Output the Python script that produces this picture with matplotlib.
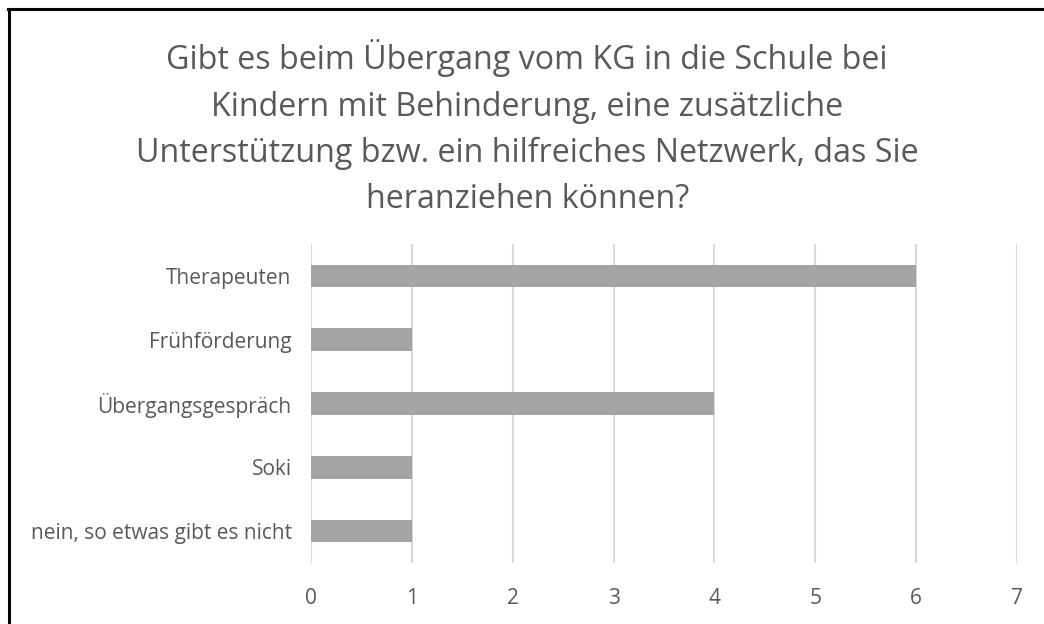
import matplotlib.pyplot as plt
from matplotlib.lines import Line2D

# Data
categories = ['Therapeuten', 'Frühförderung', 'Übergangsgespräch', 'Soki', 'nein, so etwas gibt es nicht']
values = [6, 1, 4, 1, 1]
xticks = [0, 1, 2, 3, 4, 5, 6, 7]
title = ('Gibt es beim Übergang vom KG in die Schule bei\n'
         'Kindern mit Behinderung, eine zusätzliche\n'
         'Unterstützung bzw. ein hilfreiches Netzwerk, das Sie\n'
         'heranziehen können?')

plt.rcParams['font.family'] = ['Open Sans', 'DejaVu Sans']
text_col = '#595959'

fig = plt.figure(figsize=(10.44, 6.24), dpi=100)
ax = fig.add_axes([0.298, 0.098, 0.676, 0.511])

ypos = list(range(len(categories)))
ax.barh(ypos, values, height=0.355, color='#a5a5a5', zorder=3)
ax.set_yticks(ypos)
ax.set_yticklabels(categories)
ax.set_ylim(len(categories) - 0.5, -0.5)
ax.set_xlim(0, 7)
ax.set_xticks(xticks)

ax.grid(axis='x', color='#d9d9d9', linewidth=1.5, zorder=0)
for s in ax.spines.values():
    s.set_visible(False)
ax.tick_params(length=0, labelsize=15, colors=text_col, pad=14)
ax.tick_params(axis='x', pad=18)

fig.text(0.505, 0.937, title, ha='center', va='top', fontsize=23.2,
         color=text_col, linespacing=1.53)

# outer border (top and left only visible)
fig.add_artist(Line2D([0.008, 1.0], [0.985, 0.985], color='black', lw=2.2, transform=fig.transFigure))
fig.add_artist(Line2D([0.0085, 0.0085], [0.0, 0.985], color='black', lw=2.2, transform=fig.transFigure))

fig.savefig('out.png', dpi=100)
